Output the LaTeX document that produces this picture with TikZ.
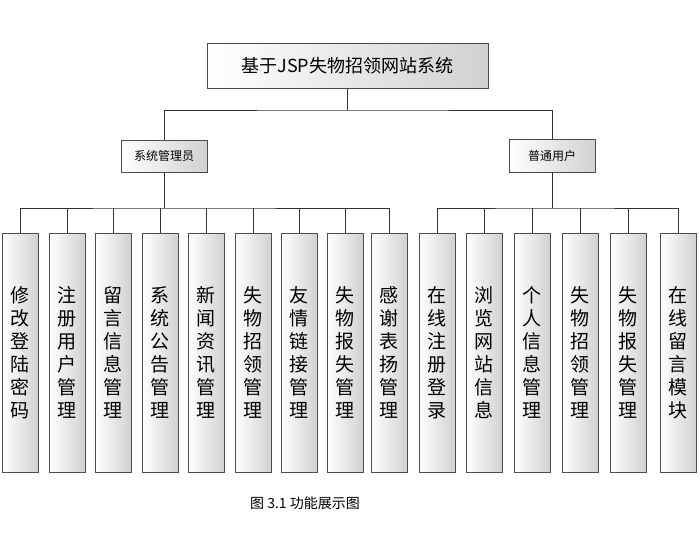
\documentclass[tikz,border=0pt]{standalone}
\usepackage{fontspec}
\newfontfamily\cjk{Noto Sans CJK SC}
\begin{document}
\begin{tikzpicture}[x=1pt,y=-1pt,
  box/.style={draw=black!70,left color=white,right color=black!18,inner sep=0pt},
  leaf/.style={box,minimum width=36pt,minimum height=239pt,anchor=north,font=\cjk\fontsize{19}{23}\selectfont,align=center},
  ln/.style={draw=black!80,line width=0.8pt}]
\useasboundingbox (0,0) rectangle (700,538);
\node[box,minimum width=281pt,minimum height=45pt,font=\cjk\fontsize{18}{20}\selectfont] (top) at (347.5,65.5) {基于JSP失物招领网站系统};
\node[box,minimum width=86pt,minimum height=32pt,font=\cjk\fontsize{12}{13}\selectfont] (adm) at (164,156) {系统管理员};
\node[box,minimum width=86pt,minimum height=33pt,font=\cjk\fontsize{12}{13}\selectfont] (usr) at (552,155.5) {普通用户};
\coordinate (j0) at (347.5,110);
\draw[ln] (top.south) -- (j0);
\draw[ln] (adm.north) |- (j0) -| (usr.north);
\foreach \n/\x/\t in {a1/20/修\\改\\登\\陆\\密\\码, a2/67/注\\册\\用\\户\\管\\理, a3/113/留\\言\\信\\息\\管\\理, a4/160/系\\统\\公\\告\\管\\理, a5/206/新\\闻\\资\\讯\\管\\理, a6/253/失\\物\\招\\领\\管\\理, a7/299/友\\情\\链\\接\\管\\理, a8/345/失\\物\\报\\失\\管\\理, a9/389/感\\谢\\表\\扬\\管\\理, b1/437/在\\线\\注\\册\\登\\录, b2/484/浏\\览\\网\\站\\信\\息, b3/532/个\\人\\信\\息\\管\\理, b4/580/失\\物\\招\\领\\管\\理, b5/628/失\\物\\报\\失\\管\\理, b6/678/在\\线\\留\\言\\模\\块}
  {\node[leaf] (\n) at (\x,233) {\t};}
\coordinate (ja) at (164,208);
\coordinate (jb) at (552,208);
\draw[ln] (adm.south) -- (ja);
\draw[ln] (usr.south) -- (jb);
\draw[ln] (a1.north) |- (ja) -| (a9.north);
\draw[ln] (b1.north) |- (jb) -| (b6.north);
\foreach \n in {a2,a3,a4,a5,a6,a7,a8} {\draw[ln] (\n.north) -- (\n.north |- ja);}
\foreach \n in {b2,b3,b4,b5} {\draw[ln] (\n.north) -- (\n.north |- jb);}
\node[font=\cjk\fontsize{14}{16}\selectfont] (cap) at (305,503) {图 3.1 功能展示图};
\end{tikzpicture}
\end{document}
